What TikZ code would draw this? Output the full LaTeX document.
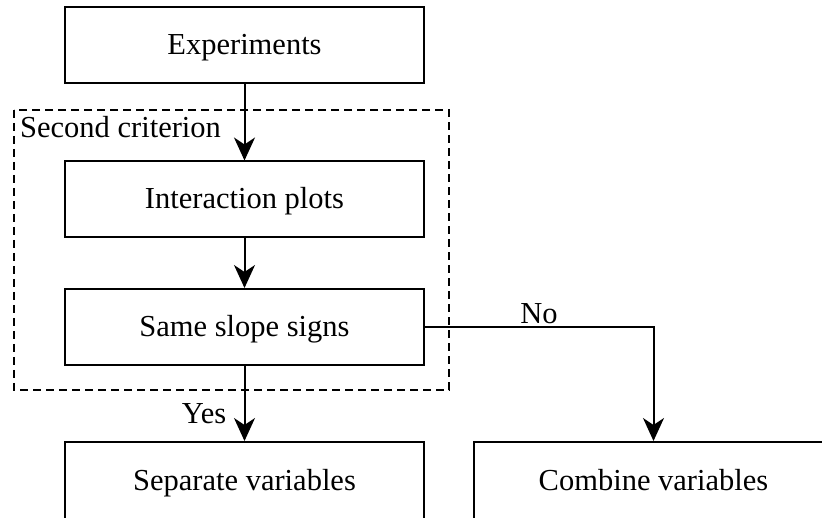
\documentclass[tikz,border=0pt]{standalone}
\usepackage{fontspec}
\setmainfont{Liberation Serif}
\usetikzlibrary{arrows.meta}
\begin{document}
\begin{tikzpicture}[x=1pt,y=-1pt,
  box/.style={draw, line width=2pt, rectangle, minimum width=359pt, minimum height=76pt,
    inner sep=0pt, text height=22pt, text depth=3pt, font=\fontsize{30.5}{36}\selectfont},
  flow/.style={line width=2pt, -{Stealth[length=23pt,width=21pt,inset=7pt]}},
  lbl/.style={inner sep=0pt, font=\fontsize{30.5}{36}\selectfont},
  group/.style={draw, line width=2pt, dash pattern=on 8pt off 5pt}]
\useasboundingbox (0,0) rectangle (822,518);
\begin{scope}
\clip (0,0) rectangle (822,518);
% criterion group frame
\draw[group] (14,110) rectangle (449,390);
\node[lbl, anchor=west] (crit) at (20,127) {Second criterion};
% process boxes
\node[box] (exp) at (244.5,45) {Experiments};
\node[box] (inter) at (244.5,199.5) {Interaction plots};
\node[box] (same) at (244.5,327) {Same slope signs};
\node[box, minimum height=78pt] (sep) at (244.5,481) {Separate variables};
\node[box, minimum height=78pt] (comb) at (653.5,481) {Combine variables};
% connectors
\draw[flow] (exp) -- (inter);
\draw[flow] (inter) -- (same);
\draw[flow] (same) -- (sep);
\draw[flow] (same.east) -| (comb.north);
\node[lbl] (yes) at (204,414) {Yes};
\node[lbl] (no) at (539,314) {No};
\end{scope}
\end{tikzpicture}
\end{document}
